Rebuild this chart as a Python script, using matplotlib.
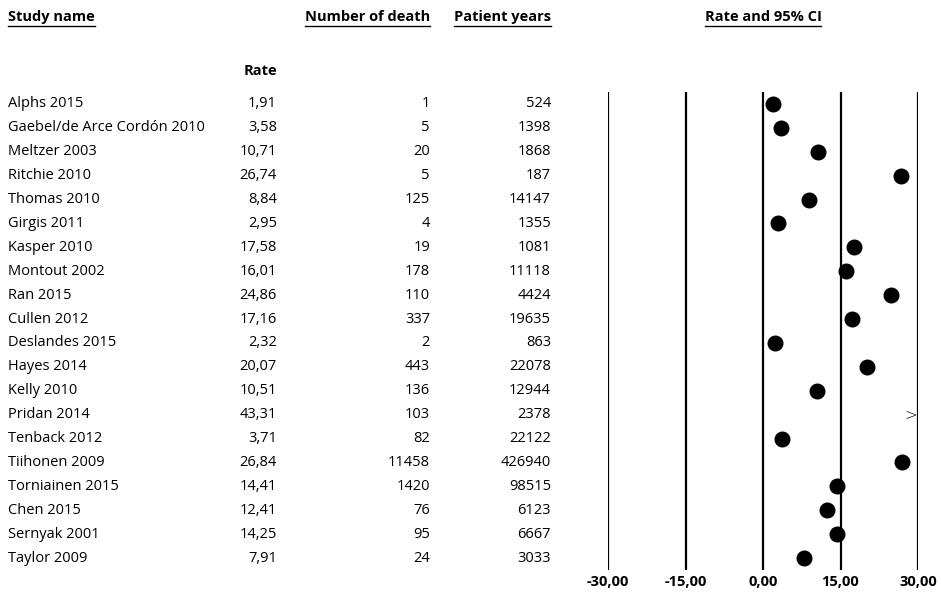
import matplotlib
matplotlib.use("Agg")
import matplotlib.pyplot as plt
from matplotlib.transforms import blended_transform_factory
from matplotlib.lines import Line2D

plt.rcParams['font.family'] = ['Open Sans', 'DejaVu Sans']

# dados dos estudos
estudos = ["Alphs 2015", "Gaebel/de Arce Cordón 2010", "Meltzer 2003", "Ritchie 2010",
           "Thomas 2010", "Girgis 2011", "Kasper 2010", "Montout 2002", "Ran 2015",
           "Cullen 2012", "Deslandes 2015", "Hayes 2014", "Kelly 2010", "Pridan 2014",
           "Tenback 2012", "Tiihonen 2009", "Torniainen 2015", "Chen 2015",
           "Sernyak 2001", "Taylor 2009"]
taxas = [1.91, 3.58, 10.71, 26.74, 8.84, 2.95, 17.58, 16.01, 24.86, 17.16,
         2.32, 20.07, 10.51, 43.31, 3.71, 26.84, 14.41, 12.41, 14.25, 7.91]
obitos = [1, 5, 20, 5, 125, 4, 19, 178, 110, 337, 2, 443, 136, 103, 82, 11458,
          1420, 76, 95, 24]
pacientes_ano = [524, 1398, 1868, 187, 14147, 1355, 1081, 11118, 4424, 19635,
                 863, 22078, 12944, 2378, 22122, 426940, 98515, 6123, 6667, 3033]
ticks = [-30, -15, 0, 15, 30]

W, H = 941, 599
fig = plt.figure(figsize=(W / 100, H / 100), dpi=100)

# área do gráfico: x=-30 em 608px, x=30 em 918px
ax = fig.add_axes([608 / W, (H - 570) / H, 310 / W, 478 / H])
ax.set_xlim(-30, 30)
ax.set_ylim(19.5, -0.5)
ax.axis("off")

for t in ticks:
    ax.axvline(t, color="black", lw=1.6)

lim = ticks[-1]
for i, v in enumerate(taxas):
    if v > lim:
        # valor fora da escala: só a seta na borda
        ax.text(lim - 0.2, i + 0.05, ">", ha="right", va="center", fontsize=11,
                fontfamily="DejaVu Sans", fontweight="light", clip_on=False)
    else:
        ax.plot(v, i, "o", color="black", ms=10.5, clip_on=False)

fmt = lambda v: f"{v:.2f}".replace(".", ",")

trans = blended_transform_factory(fig.transFigure, ax.transData)
fs = 10.5
for i in range(len(estudos)):
    fig.text(8 / W, i, estudos[i], transform=trans, ha="left", va="center", fontsize=fs)
    fig.text(277 / W, i, fmt(taxas[i]), transform=trans, ha="right", va="center", fontsize=fs)
    fig.text(430 / W, i, str(obitos[i]), transform=trans, ha="right", va="center", fontsize=fs)
    fig.text(551 / W, i, str(pacientes_ano[i]), transform=trans, ha="right", va="center", fontsize=fs)

# rótulos do eixo
for t in ticks:
    x = 608 + (t + 30) / 60 * 310
    fig.text(x / W, 1 - 582 / H, fmt(t), ha="center", va="center", fontsize=fs, fontweight="bold")

fig.text(277 / W, 1 - 71 / H, "Rate", ha="right", va="center", fontsize=fs, fontweight="bold")

# cabeçalhos sublinhados
cabecalhos = [
    (8, "left", "Study name"),
    (430, "right", "Number of death"),
    (551, "right", "Patient years"),
    (763, "center", "Rate and 95% CI"),
]
textos = []
for x, ha, s in cabecalhos:
    textos.append(fig.text(x / W, 1 - 17 / H, s, ha=ha, va="center", fontsize=fs, fontweight="bold"))

fig.canvas.draw()
r = fig.canvas.get_renderer()
for t in textos:
    bb = t.get_window_extent(r)
    y = (bb.y0 - 2) / H
    fig.add_artist(Line2D([bb.x0 / W, bb.x1 / W], [y, y], color="black", lw=1.0))

fig.savefig("out.png", dpi=100)
